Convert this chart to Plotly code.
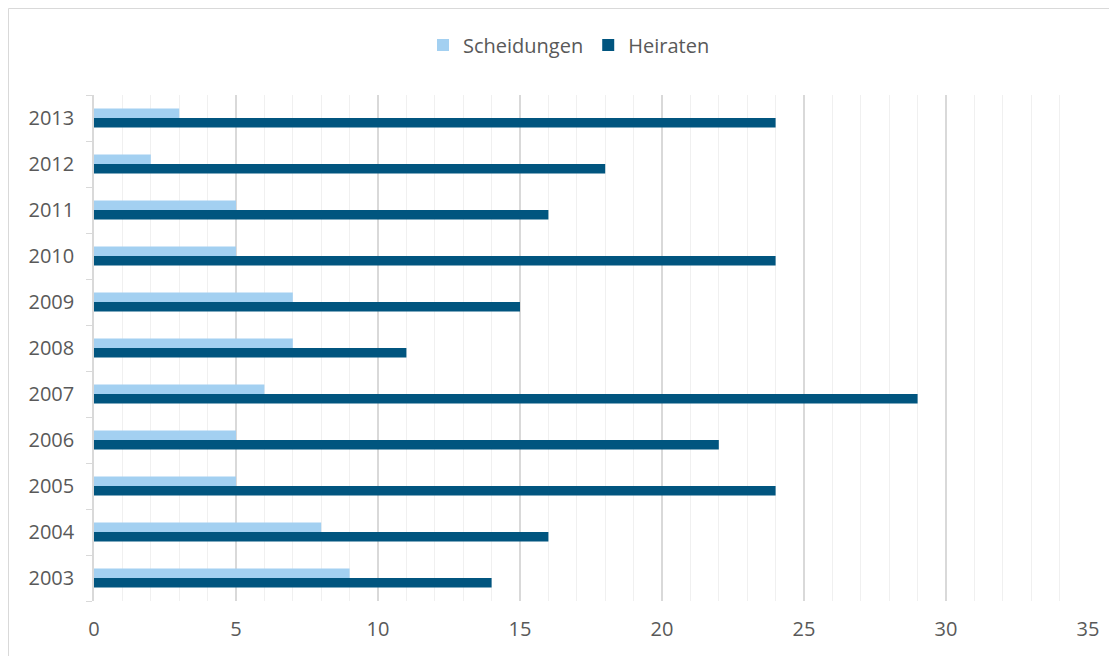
import plotly.graph_objects as go

years = ["2003", "2004", "2005", "2006", "2007", "2008", "2009", "2010", "2011", "2012", "2013"]
scheidungen = [9, 8, 5, 5, 6, 7, 7, 5, 5, 2, 3]
heiraten = [14, 16, 24, 22, 29, 11, 15, 24, 16, 18, 24]
x_ticks = [0, 5, 10, 15, 20, 25, 30, 35]

fig = go.Figure()
fig.add_trace(go.Bar(y=years, x=heiraten, name="Heiraten", orientation="h",
                     marker=dict(color="#01557F", line=dict(width=0))))
fig.add_trace(go.Bar(y=years, x=scheidungen, name="Scheidungen", orientation="h",
                     marker=dict(color="#A3D0F1", line=dict(width=0))))

W, H = 1109, 648
L, R, T, B = 86, 29, 87, 55
pw, ph = W - L - R, H - T - B

fig.update_layout(
    width=W, height=H,
    margin=dict(l=L, r=R, t=T, b=B, autoexpand=False),
    paper_bgcolor="white", plot_bgcolor="white",
    barmode="group", bargap=0.59, bargroupgap=0,
    font=dict(family="Open Sans", size=20, color="#595959"),
    showlegend=True,
    legend=dict(orientation="h", x=0.5 - 22 / pw, xanchor="center",
                y=1 + (T - 37) / ph, yanchor="middle",
                traceorder="reversed", font=dict(size=20, color="#595959"),
                itemwidth=30, bgcolor="rgba(0,0,0,0)"),
    xaxis=dict(range=[0, 35], tickvals=x_ticks, ticktext=[str(v) for v in x_ticks],
               showgrid=True, gridcolor="#D9D9D9", gridwidth=1.5,
               minor=dict(dtick=1, showgrid=True, gridcolor="#F0F0F0", gridwidth=1),
               zeroline=False, showline=False, ticks="", ticklabelstandoff=14),
    yaxis=dict(type="category", categoryorder="array", categoryarray=years,
               showline=True, linecolor="#D9D9D9", linewidth=1.5,
               ticks="outside", tickson="boundaries", ticklen=6, tickcolor="#D9D9D9",
               showgrid=False, zeroline=False, ticklabelstandoff=14),
    shapes=[dict(type="rect", xref="paper", yref="paper",
                 x0=(0.5 - L) / pw, x1=(W + 20 - L) / pw,
                 y0=-(B + 20) / ph, y1=1 + (T - 0.5) / ph,
                 line=dict(color="#D9D9D9", width=1), fillcolor="rgba(0,0,0,0)",
                 layer="below")],
)

fig.write_html("out.html")
